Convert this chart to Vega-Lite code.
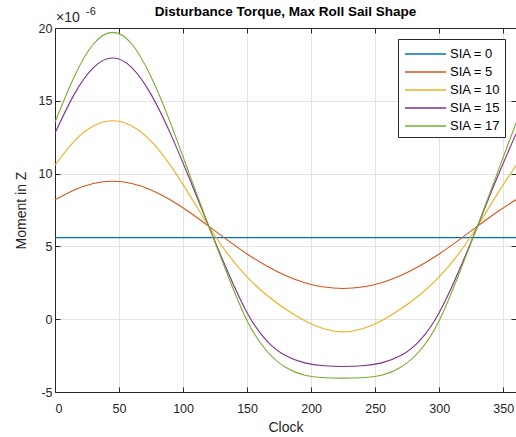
{
  "$schema": "https://vega.github.io/schema/vega-lite/v6.json",
  "width": 461,
  "height": 364,
  "autosize": {"type": "none"},
  "padding": {"left": 55, "top": 28, "right": 0, "bottom": 45},
  "background": "white",
  "config": {
    "font": "Liberation Sans",
    "view": {"stroke": null},
    "axis": {
      "domainColor": "#262626",
      "tickColor": "#262626",
      "labelColor": "#262626",
      "titleColor": "#262626",
      "labelFont": "Liberation Sans",
      "titleFont": "Liberation Sans",
      "labelFontSize": 12.5,
      "titleFontSize": 14,
      "titleFontWeight": "normal",
      "gridColor": "#e3e3e3",
      "gridWidth": 1,
      "tickSize": -5,
      "domainWidth": 1
    },
    "legend": {
      "labelFont": "Liberation Sans",
      "labelFontSize": 13,
      "labelColor": "#000000"
    }
  },
  "title": {
    "text": "Disturbance Torque, Max Roll Sail Shape",
    "fontSize": 13.5,
    "fontWeight": "bold",
    "color": "#000000",
    "offset": -12,
    "anchor": "middle",
    "font": "Liberation Sans"
  },
  "datasets": {
    "curves": [
      {"Clock": 0, "SIA": "SIA = 0", "Moment": 5.6},
      {"Clock": 360, "SIA": "SIA = 0", "Moment": 5.6},

      {"Clock": 0, "SIA": "SIA = 5", "Moment": 8.2},
      {"Clock": 15, "SIA": "SIA = 5", "Moment": 8.88},
      {"Clock": 30, "SIA": "SIA = 5", "Moment": 9.32},
      {"Clock": 45, "SIA": "SIA = 5", "Moment": 9.47},
      {"Clock": 60, "SIA": "SIA = 5", "Moment": 9.32},
      {"Clock": 75, "SIA": "SIA = 5", "Moment": 8.88},
      {"Clock": 90, "SIA": "SIA = 5", "Moment": 8.2},
      {"Clock": 105, "SIA": "SIA = 5", "Moment": 7.35},
      {"Clock": 120, "SIA": "SIA = 5", "Moment": 6.39},
      {"Clock": 135, "SIA": "SIA = 5", "Moment": 5.41},
      {"Clock": 150, "SIA": "SIA = 5", "Moment": 4.48},
      {"Clock": 165, "SIA": "SIA = 5", "Moment": 3.67},
      {"Clock": 180, "SIA": "SIA = 5", "Moment": 3.0},
      {"Clock": 195, "SIA": "SIA = 5", "Moment": 2.51},
      {"Clock": 210, "SIA": "SIA = 5", "Moment": 2.21},
      {"Clock": 225, "SIA": "SIA = 5", "Moment": 2.11},
      {"Clock": 240, "SIA": "SIA = 5", "Moment": 2.21},
      {"Clock": 255, "SIA": "SIA = 5", "Moment": 2.51},
      {"Clock": 270, "SIA": "SIA = 5", "Moment": 3.0},
      {"Clock": 285, "SIA": "SIA = 5", "Moment": 3.67},
      {"Clock": 300, "SIA": "SIA = 5", "Moment": 4.48},
      {"Clock": 315, "SIA": "SIA = 5", "Moment": 5.41},
      {"Clock": 330, "SIA": "SIA = 5", "Moment": 6.39},
      {"Clock": 345, "SIA": "SIA = 5", "Moment": 7.35},
      {"Clock": 360, "SIA": "SIA = 5", "Moment": 8.2},

      {"Clock": 0, "SIA": "SIA = 10", "Moment": 10.58},
      {"Clock": 15, "SIA": "SIA = 10", "Moment": 12.23},
      {"Clock": 30, "SIA": "SIA = 10", "Moment": 13.27},
      {"Clock": 45, "SIA": "SIA = 10", "Moment": 13.63},
      {"Clock": 60, "SIA": "SIA = 10", "Moment": 13.27},
      {"Clock": 75, "SIA": "SIA = 10", "Moment": 12.23},
      {"Clock": 90, "SIA": "SIA = 10", "Moment": 10.58},
      {"Clock": 105, "SIA": "SIA = 10", "Moment": 8.54},
      {"Clock": 120, "SIA": "SIA = 10", "Moment": 6.4},
      {"Clock": 135, "SIA": "SIA = 10", "Moment": 4.47},
      {"Clock": 150, "SIA": "SIA = 10", "Moment": 2.9},
      {"Clock": 165, "SIA": "SIA = 10", "Moment": 1.68},
      {"Clock": 180, "SIA": "SIA = 10", "Moment": 0.7},
      {"Clock": 195, "SIA": "SIA = 10", "Moment": -0.1},
      {"Clock": 210, "SIA": "SIA = 10", "Moment": -0.66},
      {"Clock": 225, "SIA": "SIA = 10", "Moment": -0.87},
      {"Clock": 240, "SIA": "SIA = 10", "Moment": -0.66},
      {"Clock": 255, "SIA": "SIA = 10", "Moment": -0.1},
      {"Clock": 270, "SIA": "SIA = 10", "Moment": 0.7},
      {"Clock": 285, "SIA": "SIA = 10", "Moment": 1.68},
      {"Clock": 300, "SIA": "SIA = 10", "Moment": 2.9},
      {"Clock": 315, "SIA": "SIA = 10", "Moment": 4.47},
      {"Clock": 330, "SIA": "SIA = 10", "Moment": 6.4},
      {"Clock": 345, "SIA": "SIA = 10", "Moment": 8.54},
      {"Clock": 360, "SIA": "SIA = 10", "Moment": 10.55},

      {"Clock": 0, "SIA": "SIA = 15", "Moment": 12.78},
      {"Clock": 15, "SIA": "SIA = 15", "Moment": 15.44},
      {"Clock": 30, "SIA": "SIA = 15", "Moment": 17.28},
      {"Clock": 45, "SIA": "SIA = 15", "Moment": 17.94},
      {"Clock": 60, "SIA": "SIA = 15", "Moment": 17.28},
      {"Clock": 75, "SIA": "SIA = 15", "Moment": 15.44},
      {"Clock": 90, "SIA": "SIA = 15", "Moment": 12.78},
      {"Clock": 105, "SIA": "SIA = 15", "Moment": 9.66},
      {"Clock": 120, "SIA": "SIA = 15", "Moment": 6.4},
      {"Clock": 135, "SIA": "SIA = 15", "Moment": 3.24},
      {"Clock": 150, "SIA": "SIA = 15", "Moment": 0.45},
      {"Clock": 165, "SIA": "SIA = 15", "Moment": -1.45},
      {"Clock": 180, "SIA": "SIA = 15", "Moment": -2.5},
      {"Clock": 195, "SIA": "SIA = 15", "Moment": -3.0},
      {"Clock": 210, "SIA": "SIA = 15", "Moment": -3.2},
      {"Clock": 225, "SIA": "SIA = 15", "Moment": -3.25},
      {"Clock": 240, "SIA": "SIA = 15", "Moment": -3.2},
      {"Clock": 255, "SIA": "SIA = 15", "Moment": -3.0},
      {"Clock": 270, "SIA": "SIA = 15", "Moment": -2.5},
      {"Clock": 285, "SIA": "SIA = 15", "Moment": -1.45},
      {"Clock": 300, "SIA": "SIA = 15", "Moment": 0.45},
      {"Clock": 315, "SIA": "SIA = 15", "Moment": 3.24},
      {"Clock": 330, "SIA": "SIA = 15", "Moment": 6.4},
      {"Clock": 345, "SIA": "SIA = 15", "Moment": 9.66},
      {"Clock": 360, "SIA": "SIA = 15", "Moment": 12.72},

      {"Clock": 0, "SIA": "SIA = 17", "Moment": 13.52},
      {"Clock": 15, "SIA": "SIA = 17", "Moment": 16.65},
      {"Clock": 30, "SIA": "SIA = 17", "Moment": 18.9},
      {"Clock": 45, "SIA": "SIA = 17", "Moment": 19.7},
      {"Clock": 60, "SIA": "SIA = 17", "Moment": 18.9},
      {"Clock": 75, "SIA": "SIA = 17", "Moment": 16.65},
      {"Clock": 90, "SIA": "SIA = 17", "Moment": 13.52},
      {"Clock": 105, "SIA": "SIA = 17", "Moment": 9.95},
      {"Clock": 120, "SIA": "SIA = 17", "Moment": 6.4},
      {"Clock": 135, "SIA": "SIA = 17", "Moment": 3.0},
      {"Clock": 150, "SIA": "SIA = 17", "Moment": -0.1},
      {"Clock": 165, "SIA": "SIA = 17", "Moment": -2.15},
      {"Clock": 180, "SIA": "SIA = 17", "Moment": -3.3},
      {"Clock": 195, "SIA": "SIA = 17", "Moment": -3.85},
      {"Clock": 210, "SIA": "SIA = 17", "Moment": -4.02},
      {"Clock": 225, "SIA": "SIA = 17", "Moment": -4.05},
      {"Clock": 240, "SIA": "SIA = 17", "Moment": -4.02},
      {"Clock": 255, "SIA": "SIA = 17", "Moment": -3.85},
      {"Clock": 270, "SIA": "SIA = 17", "Moment": -3.3},
      {"Clock": 285, "SIA": "SIA = 17", "Moment": -2.15},
      {"Clock": 300, "SIA": "SIA = 17", "Moment": -0.1},
      {"Clock": 315, "SIA": "SIA = 17", "Moment": 3.0},
      {"Clock": 330, "SIA": "SIA = 17", "Moment": 6.4},
      {"Clock": 345, "SIA": "SIA = 17", "Moment": 9.95},
      {"Clock": 360, "SIA": "SIA = 17", "Moment": 13.47}
    ],
    "exponent": [
      {"Clock": 0, "Moment": 20, "base": "×10", "power": "-6"}
    ]
  },
  "layer": [
    {
      "data": {"name": "curves"},
      "mark": {"type": "line", "interpolate": "natural", "strokeWidth": 1.1, "clip": true},
      "encoding": {
        "x": {
          "field": "Clock", "type": "quantitative",
          "scale": {"domain": [0, 360], "nice": false, "zero": false},
          "axis": {
            "title": "Clock", "orient": "bottom", "grid": true,
            "values": [0, 50, 100, 150, 200, 250, 300, 350],
            "labelPadding": 15, "titlePadding": 6
          }
        },
        "y": {
          "field": "Moment", "type": "quantitative",
          "scale": {"domain": [-5, 20], "nice": false, "zero": false},
          "axis": {
            "title": "Moment in Z", "orient": "left", "grid": true,
            "values": [-5, 0, 5, 10, 15, 20],
            "labelExpr": "'' + datum.value",
            "labelPadding": 8, "titlePadding": 10
          }
        },
        "color": {
          "field": "SIA", "type": "nominal",
          "scale": {
            "domain": ["SIA = 0", "SIA = 5", "SIA = 10", "SIA = 15", "SIA = 17"],
            "range": ["#0072BD", "#D95319", "#EDB120", "#7E2F8E", "#77AC30"]
          },
          "legend": {
            "title": null,
            "orient": "top-right",
            "offset": 11,
            "symbolType": "M-0.8,0L3.3,0",
            "symbolSize": 400,
            "symbolStrokeWidth": 1.3,
            "strokeColor": "#262626",
            "fillColor": "#ffffff",
            "padding": 4,
            "rowPadding": -4.5,
            "labelOffset": 26
          }
        }
      }
    },
    {
      "data": {"name": "exponent"},
      "layer": [
        {
          "mark": {"type": "text", "align": "left", "baseline": "alphabetic", "dx": 1, "dy": -6, "fontSize": 14, "color": "#262626", "font": "Liberation Sans"},
          "encoding": {
            "x": {
              "field": "Clock", "type": "quantitative",
              "scale": {"domain": [0, 360], "nice": false, "zero": false},
              "axis": {"orient": "top", "title": null, "labels": false, "grid": false, "values": [0, 50, 100, 150, 200, 250, 300, 350]}
            },
            "y": {
              "field": "Moment", "type": "quantitative",
              "scale": {"domain": [-5, 20], "nice": false, "zero": false},
              "axis": {"orient": "right", "title": null, "labels": false, "grid": false, "values": [-5, 0, 5, 10, 15, 20]}
            },
            "text": {"field": "base"}
          }
        },
        {
          "mark": {"type": "text", "align": "left", "baseline": "alphabetic", "dx": 31, "dy": -13, "fontSize": 11, "color": "#262626", "font": "Liberation Sans"},
          "encoding": {
            "x": {"field": "Clock", "type": "quantitative"},
            "y": {"field": "Moment", "type": "quantitative"},
            "text": {"field": "power"}
          }
        }
      ]
    }
  ],
  "resolve": {"axis": {"x": "independent", "y": "independent"}}
}
